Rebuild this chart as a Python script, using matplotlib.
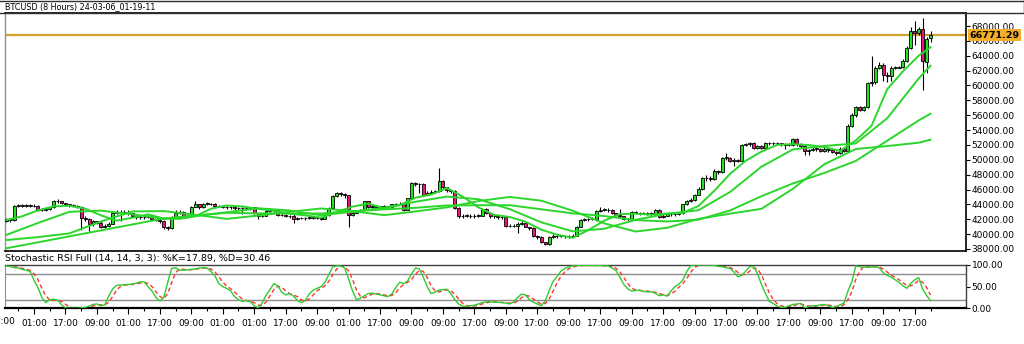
import matplotlib
matplotlib.use("Agg")

import matplotlib.pyplot as plt
from matplotlib.lines import Line2D
import numpy as np
import pandas as pd

# =====================================================================
# DATA (prices in thousands of USD, one value per 8 hour bar)
# =====================================================================
opens = [
    41.8, 42.0, 41.9, 43.8, 43.9, 43.85, 43.9, 43.85, 43.8, 43.25,
    43.3, 43.35, 43.6, 44.45, 44.4, 44.15, 44.0, 43.9, 43.8, 43.7,
    42.2, 42.1, 41.35, 41.7, 41.55, 41.0, 41.1, 41.4, 42.8, 43.0,
    43.0, 43.0, 42.8, 42.5, 42.3, 42.3, 42.35, 42.45, 42.0, 41.9,
    41.75, 41.0, 40.8, 42.35, 42.85, 43.0, 42.3, 42.45, 43.7, 44.0,
    43.6, 44.1, 44.1, 44.05, 43.8, 43.8, 43.7, 43.6, 43.6, 43.55,
    43.5, 43.5, 43.45, 43.6, 42.8, 42.45, 42.5, 43.1, 43.3, 43.25,
    42.6, 42.6, 42.45, 42.4, 42.05, 42.2, 42.2, 42.15, 42.25, 42.2,
    42.2, 42.1, 42.6, 43.45, 45.1, 45.5, 45.4, 45.2, 42.6, 42.9,
    43.1, 43.3, 44.4, 43.6, 43.8, 43.7, 43.7, 43.75, 43.7, 44.0,
    44.05, 44.1, 43.25, 44.8, 46.9, 46.8, 46.75, 45.3, 45.6, 45.65,
    45.8, 47.1, 46.3, 45.9, 45.8, 43.5, 42.4, 42.5, 42.5, 42.45,
    42.5, 42.5, 43.4, 42.8, 42.4, 42.4, 42.35, 42.3, 41.1, 41.1,
    41.15, 41.4, 41.5, 41.0, 40.8, 39.7, 39.6, 38.9, 38.7, 39.6,
    39.8, 39.7, 39.75, 39.7, 39.7, 39.8, 41.0, 41.9, 42.0, 42.0,
    42.1, 43.1, 43.3, 43.3, 43.25, 42.8, 42.6, 42.4, 42.05, 42.0,
    42.95, 42.85, 42.8, 42.85, 42.8, 42.75, 43.25, 42.3, 42.5, 42.65,
    42.7, 42.75, 42.8, 44.0, 44.4, 44.6, 45.3, 46.1, 47.5, 47.6,
    47.4, 48.5, 48.3, 50.3, 50.3, 49.9, 50.0, 49.9, 52.0, 52.1,
    52.2, 51.6, 51.8, 51.6, 52.2, 52.2, 52.2, 52.2, 52.15, 52.0,
    52.0, 52.8, 52.1, 51.9, 51.2, 51.35, 51.5, 51.5, 51.2, 51.5,
    51.3, 51.1, 50.9, 51.5, 51.2, 54.6, 56.0, 57.1, 56.7, 57.1,
    60.3, 60.4, 62.4, 62.7, 61.4, 61.3, 62.4, 62.4, 62.5, 63.3,
    65.1, 67.3, 67.0, 67.6, 63.2, 66.4,
]
closes = [
    42.0, 41.9, 43.8, 43.9, 43.85, 43.9, 43.85, 43.8, 43.25, 43.3,
    43.35, 43.6, 44.45, 44.4, 44.15, 44.0, 43.9, 43.8, 43.7, 42.2,
    42.1, 41.35, 41.7, 41.55, 41.0, 41.1, 41.4, 42.8, 43.0, 43.0,
    43.0, 42.8, 42.5, 42.3, 42.3, 42.35, 42.45, 42.0, 41.9, 41.75,
    41.0, 40.8, 42.35, 42.85, 43.0, 42.3, 42.45, 43.7, 44.0, 43.6,
    44.1, 44.1, 44.05, 43.8, 43.8, 43.7, 43.6, 43.6, 43.55, 43.5,
    43.5, 43.45, 43.6, 42.8, 42.45, 42.5, 43.1, 43.3, 43.25, 42.6,
    42.6, 42.45, 42.4, 42.05, 42.2, 42.2, 42.15, 42.25, 42.2, 42.2,
    42.1, 42.6, 43.45, 45.1, 45.5, 45.4, 45.2, 42.6, 42.9, 43.1,
    43.3, 44.4, 43.6, 43.8, 43.7, 43.7, 43.75, 43.7, 44.0, 44.05,
    44.1, 43.25, 44.8, 46.9, 46.8, 46.75, 45.3, 45.6, 45.65, 45.8,
    47.1, 46.3, 45.9, 45.8, 43.5, 42.4, 42.5, 42.5, 42.45, 42.5,
    42.5, 43.4, 42.8, 42.4, 42.4, 42.35, 42.3, 41.1, 41.1, 41.15,
    41.4, 41.5, 41.0, 40.8, 39.7, 39.6, 38.9, 38.7, 39.6, 39.8,
    39.7, 39.75, 39.7, 39.7, 39.8, 41.0, 41.9, 42.0, 42.0, 42.1,
    43.1, 43.3, 43.3, 43.25, 42.8, 42.6, 42.4, 42.05, 42.0, 42.95,
    42.85, 42.8, 42.85, 42.8, 42.75, 43.25, 42.3, 42.5, 42.65, 42.7,
    42.75, 42.8, 44.0, 44.4, 44.6, 45.3, 46.1, 47.5, 47.6, 47.4,
    48.5, 48.3, 50.3, 50.3, 49.9, 50.0, 49.9, 52.0, 52.1, 52.2,
    51.6, 51.8, 51.6, 52.2, 52.2, 52.2, 52.2, 52.15, 52.0, 52.0,
    52.8, 52.1, 51.9, 51.2, 51.35, 51.5, 51.5, 51.2, 51.5, 51.3,
    51.1, 50.9, 51.5, 51.2, 54.6, 56.0, 57.1, 56.7, 57.1, 60.3,
    60.4, 62.4, 62.7, 61.4, 61.3, 62.4, 62.4, 62.5, 63.3, 65.1,
    67.3, 67.0, 67.6, 63.3, 66.25, 66.77129,
]
highs = [
    42.2, 42.1, 43.9, 44.1, 44.0, 44.1, 44.0, 44.0, 43.9, 43.5,
    43.5, 43.7, 44.6, 44.7, 44.5, 44.2, 44.1, 44.0, 43.9, 43.8,
    42.4, 42.2, 41.9, 41.8, 41.7, 41.3, 41.6, 42.9, 43.3, 43.2,
    43.3, 43.2, 42.9, 42.6, 42.5, 42.5, 42.6, 42.6, 42.1, 42.0,
    41.9, 41.1, 42.5, 43.3, 43.2, 43.1, 42.6, 43.8, 44.4, 44.1,
    44.2, 44.3, 44.2, 44.2, 43.95, 43.9, 43.8, 43.75, 43.7, 43.7,
    43.7, 43.6, 43.7, 43.7, 42.9, 42.7, 43.2, 43.5, 43.4, 43.35,
    42.8, 42.7, 42.6, 42.8, 42.3, 42.35, 42.3, 42.4, 42.35, 42.35,
    42.3, 42.7, 43.6, 45.3, 45.7, 45.7, 45.5, 45.3, 43.1, 43.3,
    43.4, 44.5, 44.5, 43.9, 43.9, 43.85, 43.9, 43.85, 44.1, 44.2,
    44.3, 44.2, 44.9, 47.0, 47.0, 46.9, 46.9, 45.8, 45.9, 46.0,
    48.9, 47.3, 46.4, 46.0, 45.9, 43.6, 42.7, 42.7, 42.65, 42.7,
    42.7, 43.5, 43.5, 42.9, 42.6, 42.55, 42.5, 42.4, 41.3, 41.35,
    41.6, 41.7, 41.6, 41.0, 40.9, 39.9, 39.8, 39.0, 39.7, 39.95,
    39.95, 39.9, 39.9, 39.85, 40.0, 41.1, 42.0, 42.2, 42.2, 42.3,
    43.2, 43.6, 43.5, 43.5, 43.35, 42.9, 43.4, 42.5, 42.2, 43.1,
    43.1, 43.0, 43.0, 43.0, 42.95, 43.4, 43.35, 42.7, 42.8, 42.85,
    42.9, 42.95, 44.1, 44.6, 44.8, 45.4, 46.3, 47.7, 48.0, 47.8,
    48.7, 48.6, 50.4, 50.9, 50.4, 50.2, 50.1, 52.1, 52.3, 52.4,
    52.4, 52.0, 52.0, 52.4, 52.4, 52.4, 52.4, 52.3, 52.3, 52.2,
    52.9, 52.9, 52.2, 52.0, 51.5, 51.7, 51.7, 51.6, 51.7, 51.6,
    51.5, 51.2, 51.7, 51.6, 54.8, 56.3, 57.3, 57.3, 57.3, 60.5,
    63.9, 62.6, 63.2, 63.0, 61.8, 62.6, 62.6, 62.6, 63.5, 65.3,
    67.8, 68.7, 67.9, 69.1, 66.5, 67.3,
]
lows = [
    41.6, 41.6, 41.8, 43.6, 43.6, 43.7, 43.6, 43.6, 43.1, 43.1,
    43.1, 43.2, 43.5, 44.2, 44.0, 43.8, 43.7, 43.6, 43.5, 40.6,
    41.8, 40.4, 41.1, 41.3, 40.8, 40.8, 41.0, 41.3, 42.7, 41.8,
    42.7, 42.6, 42.3, 42.1, 42.1, 42.1, 42.2, 41.9, 41.7, 41.5,
    40.7, 40.5, 40.7, 42.2, 42.7, 42.2, 42.2, 42.3, 43.6, 43.4,
    43.5, 43.9, 43.9, 43.7, 43.6, 43.5, 43.4, 43.4, 43.3, 43.3,
    42.7, 43.3, 43.3, 42.7, 42.0, 42.3, 42.4, 43.0, 43.0, 42.4,
    42.4, 42.3, 42.2, 41.5, 41.9, 42.0, 41.9, 42.0, 42.0, 42.0,
    41.9, 42.0, 42.5, 43.4, 45.0, 45.1, 44.9, 41.0, 42.5, 42.8,
    43.0, 43.2, 43.5, 43.5, 43.5, 43.5, 43.6, 43.5, 43.7, 43.9,
    43.9, 43.1, 43.2, 44.7, 46.5, 45.6, 45.2, 45.2, 45.4, 45.5,
    45.7, 46.2, 45.7, 45.6, 43.4, 42.2, 42.2, 42.3, 42.2, 42.2,
    42.3, 42.4, 42.7, 42.2, 42.2, 42.1, 42.1, 41.0, 40.9, 40.9,
    40.2, 41.2, 40.9, 40.6, 39.6, 39.4, 38.8, 38.5, 38.6, 39.5,
    39.5, 39.55, 39.5, 39.5, 39.6, 39.7, 40.9, 41.8, 41.8, 41.9,
    42.0, 43.0, 43.1, 43.0, 42.7, 42.4, 42.2, 41.9, 41.8, 41.9,
    42.7, 42.6, 42.65, 42.6, 42.6, 42.6, 42.2, 42.2, 42.4, 42.5,
    42.5, 42.6, 42.7, 43.9, 44.3, 44.5, 45.2, 46.0, 47.2, 47.1,
    47.3, 48.1, 48.2, 50.0, 49.7, 49.1, 49.7, 49.8, 51.8, 51.9,
    51.4, 51.5, 51.4, 51.5, 52.0, 52.0, 52.0, 51.9, 51.5, 51.8,
    51.9, 51.9, 51.6, 50.6, 50.7, 51.2, 51.2, 51.0, 51.1, 51.0,
    50.9, 50.7, 50.8, 51.0, 51.1, 54.4, 55.8, 56.5, 56.6, 57.0,
    59.9, 60.2, 62.2, 60.6, 60.5, 60.6, 62.2, 62.3, 62.3, 63.1,
    64.9, 65.4, 66.8, 59.4, 61.7, 65.9,
]

# moving averages (fast one every 4 bars, the others every 8)
fast_bars = [0, 4, 8, 12, 16, 20, 24, 28, 32, 36, 40, 44, 48, 52, 56, 60, 64, 68,
             72, 76, 80, 84, 88, 92, 96, 100, 104, 108, 112, 116, 120, 124, 128,
             132, 136, 140, 144, 148, 152, 156, 160, 164, 168, 172, 176, 180, 184,
             188, 192, 196, 200, 204, 208, 212, 216, 220, 224, 228, 232, 235]
ma_fast = [41.9, 42.4, 43.2, 43.73, 43.82, 43.43, 42.53, 41.82, 42.2, 42.65, 42.1,
           42.05, 42.4, 43.42, 43.85, 43.72, 43.4, 43.15, 42.75, 42.52, 42.22, 42.98,
           43.7, 44.11, 43.5, 43.88, 44.9, 45.32, 46.2, 45.06, 43.6, 42.59, 42.3,
           41.67, 40.6, 39.93, 39.5, 40.54, 41.8, 42.69, 42.75, 42.6, 42.77, 42.85,
           43.8, 45.82, 48.1, 49.87, 51.1, 52.01, 52.1, 51.99, 51.7, 51.2, 52.6,
           54.58, 59.5, 61.91, 64.0, 65.15]
ma_bars = [0, 8, 16, 24, 32, 40, 48, 56, 64, 72, 80, 88, 96, 104, 112, 120,
           128, 136, 144, 152, 160, 168, 176, 184, 192, 200, 208, 216, 224, 232, 235]
ma_mid = [39.9, 41.5, 43.0, 43.16, 42.67, 42.06, 42.44, 42.94, 43.48, 43.18, 42.54,
          43.01, 43.54, 44.35, 45.05, 44.7, 43.36, 41.59, 40.37, 40.72, 41.93, 42.73,
          43.22, 45.66, 49.07, 51.4, 51.86, 52.2, 55.6, 60.94, 62.67]
ma_slow = [38.1, 38.9, 39.7, 40.5, 41.3, 42.1, 42.5, 42.87, 42.79, 42.78, 42.77,
           43.07, 43.33, 43.54, 43.86, 43.89, 43.89, 43.34, 42.8, 42.43, 41.89, 41.7,
           41.94, 43.18, 45.1, 46.82, 48.23, 49.85, 52.57, 55.3, 56.2]
ma_long = [39.2, 39.6, 40.1, 41.7, 43.05, 43.1, 42.6, 42.05, 42.5, 43.0, 43.45,
           43.1, 42.55, 43.05, 43.6, 44.45, 45.0, 44.5, 43.15, 41.45, 40.35, 40.85,
           42.05, 42.75, 43.4, 46.1, 49.4, 51.45, 51.85, 52.3, 52.7]

# Stochastic RSI %K, one value per bar
stoch_k = [
    98, 96, 94, 93, 90, 88, 85, 65, 48, 25,
    13, 20, 21, 19, 8, 1, 0, 0, 0, 1,
    2, 5, 9, 10, 6, 8, 28, 45, 53, 54,
    54, 55, 56, 58, 61, 61, 50, 40, 25, 17,
    25, 60, 92, 94, 88, 88, 89, 90, 91, 93,
    94, 93, 85, 75, 57, 50, 46, 40, 27, 20,
    16, 18, 15, 6, 1, 12, 30, 43, 57, 52,
    37, 31, 34, 28, 18, 13, 18, 33, 42, 46,
    50, 60, 78, 96, 98, 98, 93, 68, 40, 20,
    23, 29, 34, 35, 33, 31, 29, 27, 33, 48,
    60, 57, 63, 79, 93, 91, 72, 50, 34, 37,
    42, 43, 44, 34, 20, 10, 5, 4, 6, 7,
    10, 13, 15, 15, 14, 14, 13, 12, 10, 15,
    25, 33, 31, 20, 14, 10, 6, 17, 40, 62,
    73, 86, 92, 96, 98, 99, 99, 99, 99, 99,
    99, 99, 98, 98, 93, 87, 72, 55, 45, 40,
    41, 42, 39, 38, 38, 35, 29, 31, 28, 40,
    50, 56, 65, 85, 98, 100, 100, 100, 100, 100,
    99, 97, 96, 94, 92, 84, 73, 76, 86, 96,
    97, 80, 55, 35, 16, 11, 5, 2, 2, 6,
    9, 10, 11, 1, 4, 6, 6, 8, 9, 6,
    2, 4, 8, 12, 40, 62, 98, 96, 95, 95,
    95, 97, 93, 82, 76, 72, 66, 60, 52, 46,
    58, 66, 71, 44, 29.5, 17.89,
]

# x axis labels, one every 8 bars starting at bar -1
tick_labels = ["17:00", "01:00", "17:00", "09:00", "01:00", "17:00", "09:00", "01:00",
               "01:00", "17:00", "09:00", "01:00", "17:00", "09:00", "09:00", "17:00",
               "09:00", "17:00", "09:00", "17:00", "09:00", "17:00", "09:00", "17:00",
               "09:00", "17:00", "09:00", "17:00", "09:00", "17:00"]

LAST_PRICE = 66771.29

# =====================================================================
# STYLE
# =====================================================================
GREEN = '#22E022'
PINK = '#E8177D'
MA_COL = '#2BD62B'
GOLD = '#D2A02C'
W, H = 1024, 344


def px_rect(x0, y0, x1, y1):
    return [x0 / W, 1 - y1 / H, (x1 - x0) / W, (y1 - y0) / H]


fig = plt.figure(figsize=(W / 100, H / 100), dpi=100)
fig.patch.set_facecolor('white')

ax = fig.add_axes(px_rect(5, 13, 965.5, 251))
axs = fig.add_axes(px_rect(5, 265, 965.5, 308.3))

o = np.array(opens)
c = np.array(closes)
h = np.array(highs)
l = np.array(lows)
idx = np.arange(len(c))
up = c >= o

# --- candles ---
ax.vlines(idx, l, h, color='black', lw=0.8, zorder=2)
body_lo = np.minimum(o, c)
body_h = np.maximum(np.abs(c - o), 0.03)
ax.bar(idx, body_h, bottom=body_lo, width=0.76,
       color=np.where(up, GREEN, PINK), edgecolor='black', linewidth=0.6, zorder=3)

# --- moving averages ---
ax.plot(fast_bars, ma_fast, color=MA_COL, lw=1.4, zorder=4)
for ma in (ma_mid, ma_slow, ma_long):
    ax.plot(ma_bars, ma, color=MA_COL, lw=1.4, zorder=4)

# --- last price line + label ---
ax.axhline(LAST_PRICE / 1000, color=GOLD, lw=1.6, zorder=1)
ax.text(1.004, LAST_PRICE / 1000, f"{LAST_PRICE:.2f}", transform=ax.get_yaxis_transform(),
        ha='left', va='center', fontsize=6.8, fontweight='bold', color='black', zorder=10,
        bbox=dict(boxstyle='square,pad=0.15', facecolor='#F4AE2A', edgecolor='none'),
        clip_on=False)

ax.set_xlim(-0.38, 243.9)
ax.set_ylim(37.73, 69.75)
ax.set_xticks([])
yt = np.arange(38, 69, 2)
ax.yaxis.tick_right()
ax.set_yticks(yt)
ax.set_yticklabels([f"{v * 1000:.2f}" for v in yt])
ax.tick_params(axis='y', length=3, width=0.8, pad=1.5, labelsize=6.5, colors='black')
for side in ('top', 'right', 'bottom'):
    ax.spines[side].set_color('black')
    ax.spines[side].set_linewidth(1.2)
ax.spines['left'].set_color('#909090')
ax.spines['left'].set_linewidth(1.0)

# --- stochastic RSI panel ---
k = pd.Series(stoch_k, dtype=float)
d = k.rolling(3, min_periods=1).mean()
axs.axhline(80, color='#8C8C8C', lw=1.0, zorder=1)
axs.axhline(20, color='#8C8C8C', lw=1.0, zorder=1)
axs.plot(idx, k, color='#2ECC2E', lw=1.0, zorder=3)
axs.plot(idx, d, color='#FF3333', lw=1.0, ls=(0, (3, 2)), zorder=2)
axs.set_xlim(-0.38, 243.9)
axs.set_ylim(0, 100)
axs.yaxis.tick_right()
axs.set_yticks([0, 50, 100])
axs.set_yticklabels(["0.00", "50.00", "100.00"])
axs.tick_params(axis='y', length=3, width=0.8, pad=1.5, labelsize=6.5)

major = [7 + 8 * i for i in range(29)]
axs.set_xticks(major)
axs.set_xticklabels(tick_labels[1:])
axs.set_xticks([3 + 8 * i for i in range(30)], minor=True)
axs.tick_params(axis='x', which='major', length=4, width=0.8, pad=4, labelsize=6.5)
axs.tick_params(axis='x', which='minor', length=2, width=0.8)
for side in ('top', 'right'):
    axs.spines[side].set_color('#404040')
    axs.spines[side].set_linewidth(1.0)
axs.spines['bottom'].set_color('black')
axs.spines['bottom'].set_linewidth(1.6)
axs.spines['left'].set_color('#909090')

# first label is cut by the left edge of the picture
x_first = (5 + (-1 + 0.38) / (243.9 + 0.38) * 960.5) / W
fig.text(x_first, 1 - 321.5 / H, tick_labels[0], ha='center', va='center', fontsize=6.5)

# --- header strip and panel titles ---
fig.add_artist(Line2D([0, 1], [1 - 0.5 / H] * 2, color='#303030', lw=1.0))
fig.add_artist(Line2D([0, 1], [1 - 12.5 / H] * 2, color='#303030', lw=1.0))
fig.add_artist(Line2D([1 - 0.5 / W] * 2, [1 - 12.5 / H, 1], color='#303030', lw=1.0))
fig.text(5 / W, 1 - 6.5 / H, "BTCUSD (8 Hours) 24-03-06_01-19-11",
         ha='left', va='center', fontsize=5.8)
fig.text(5 / W, 1 - 258 / H, "Stochastic RSI Full (14, 14, 3, 3): %K=17.89, %D=30.46",
         ha='left', va='center', fontsize=6.8)

fig.savefig("out.png", dpi=100, facecolor='white')
